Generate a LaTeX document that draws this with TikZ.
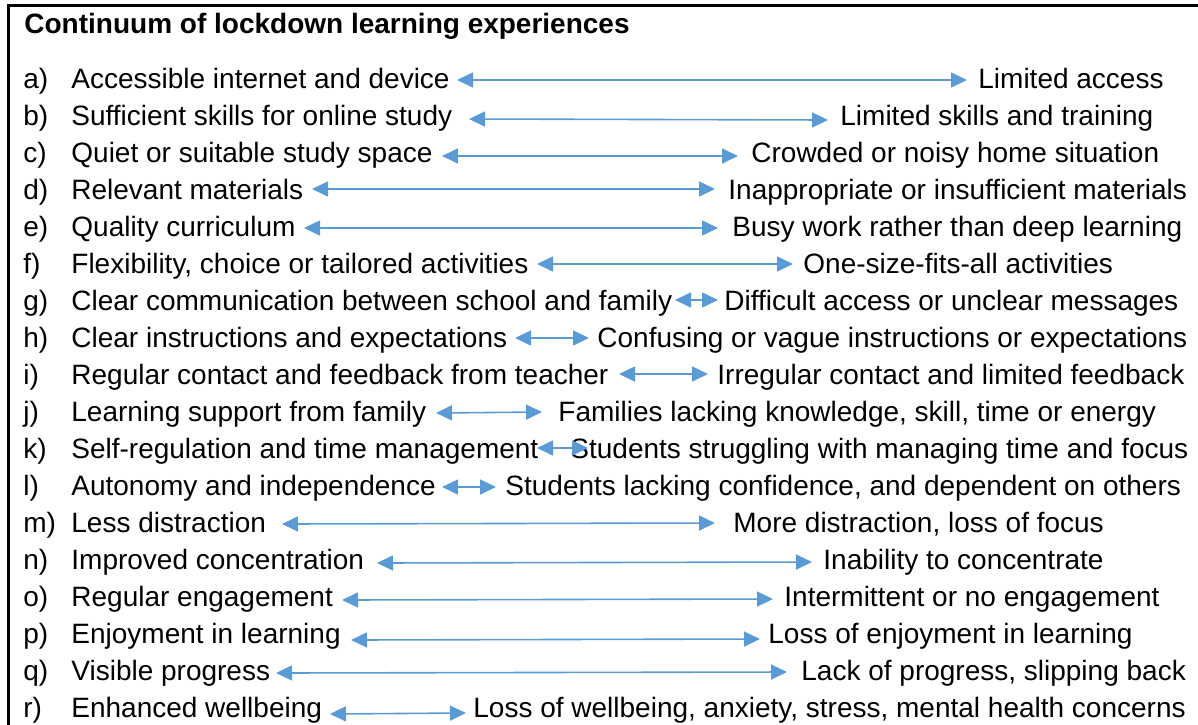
\documentclass[tikz,border=0pt]{standalone}
\usepackage{fontspec}
\setmainfont{Liberation Sans}
\usetikzlibrary{arrows.meta}
\definecolor{arrowblue}{RGB}{91,155,213}
\tikzset{
  tag/.style={anchor=base west, inner sep=0pt},
  item/.style={anchor=base west, inner sep=0pt},
  link/.style={{Triangle[length=8pt,width=7.5pt]}-{Triangle[length=8pt,width=7.5pt]}, draw=arrowblue, line width=0.8pt}
}
\begin{document}
\begin{tikzpicture}[x=0.5pt, y=-0.5pt, font=\fontsize{14pt}{16pt}\selectfont]
    \useasboundingbox (0,0) rectangle (1198,724);
    % Frame
    \draw[line width=1.4pt] (1210,5.5) -- (8.5,5.5) -- (8.5,740);

    % Title
    \node[item, font=\fontsize{14pt}{16pt}\selectfont\bfseries] (title) at (24,33) {Continuum of lockdown learning experiences};

    % a)
    \node[tag] (a0) at (23,88) {a)};
    \node[item] (a1) at (71,88) {Accessible internet and device};
    \node[item] (a2) at (978,88) {Limited access};
    \coordinate (a3) at (457,80); \coordinate (a4) at (967,80);
    \draw[link] (a3) -- (a4);

    % b)
    \node[tag] (b0) at (23,125) {b)};
    \node[item] (b1) at (71,125) {Sufficient skills for online study};
    \node[item] (b2) at (840,125) {Limited skills and training};
    \coordinate (b3) at (469,119); \coordinate (b4) at (828,120);
    \draw[link] (b3) -- (b4);

    % c)
    \node[tag] (c0) at (23,162) {c)};
    \node[item] (c1) at (71,162) {Quiet or suitable study space};
    \node[item] (c2) at (751,162) {Crowded or noisy home situation};
    \coordinate (c3) at (442,156); \coordinate (c4) at (738,156);
    \draw[link] (c3) -- (c4);

    % d)
    \node[tag] (d0) at (23,199) {d)};
    \node[item] (d1) at (71,199) {Relevant materials};
    \node[item] (d2) at (728,199) {Inappropriate or insufficient materials};
    \coordinate (d3) at (312,189); \coordinate (d4) at (715,189);
    \draw[link] (d3) -- (d4);

    % e)
    \node[tag] (e0) at (23,236) {e)};
    \node[item] (e1) at (71,236) {Quality curriculum};
    \node[item] (e2) at (732,236) {Busy work rather than deep learning};
    \coordinate (e3) at (304,228); \coordinate (e4) at (718,228);
    \draw[link] (e3) -- (e4);

    % f)
    \node[tag] (f0) at (23,273) {f)};
    \node[item] (f1) at (71,273) {Flexibility, choice or tailored activities};
    \node[item] (f2) at (803,273) {One-size-fits-all activities};
    \coordinate (f3) at (537,264); \coordinate (f4) at (793,264);
    \draw[link] (f3) -- (f4);

    % g)
    \node[tag] (g0) at (23,310) {g)};
    \node[item] (g1) at (71,310) {Clear communication between school and family};
    \node[item] (g2) at (724,310) {Difficult access or unclear messages};
    \coordinate (g3) at (675,300); \coordinate (g4) at (718,300);
    \draw[link] (g3) -- (g4);

    % h)
    \node[tag] (h0) at (23,347) {h)};
    \node[item] (h1) at (71,347) {Clear instructions and expectations};
    \node[item] (h2) at (597,347) {Confusing or vague instructions or expectations};
    \coordinate (h3) at (515,338); \coordinate (h4) at (589,338);
    \draw[link] (h3) -- (h4);

    % i)
    \node[tag] (i0) at (23,384) {i)};
    \node[item] (i1) at (71,384) {Regular contact and feedback from teacher};
    \node[item] (i2) at (717,384) {Irregular contact and limited feedback};
    \coordinate (i3) at (619,374); \coordinate (i4) at (708,374);
    \draw[link] (i3) -- (i4);

    % j)
    \node[tag] (j0) at (23,421) {j)};
    \node[item] (j1) at (71,421) {Learning support from family};
    \node[item] (j2) at (558,421) {Families lacking knowledge, skill, time or energy};
    \coordinate (j3) at (436,413); \coordinate (j4) at (542,412);
    \draw[link] (j3) -- (j4);

    % k)
    \node[tag] (k0) at (23,458) {k)};
    \node[item] (k1) at (71,458) {Self-regulation and time management};
    \node[item] (k2) at (570,458) {Students struggling with managing time and focus};
    \coordinate (k3) at (537,448); \coordinate (k4) at (588,448);
    \draw[link] (k3) -- (k4);

    % l)
    \node[tag] (l0) at (23,495) {l)};
    \node[item] (l1) at (71,495) {Autonomy and independence};
    \node[item] (l2) at (505,495) {Students lacking confidence, and dependent on others};
    \coordinate (l3) at (442,487); \coordinate (l4) at (496,487);
    \draw[link] (l3) -- (l4);

    % m)
    \node[tag] (m0) at (23,532) {m)};
    \node[item] (m1) at (71,532) {Less distraction};
    \node[item] (m2) at (733,532) {More distraction, loss of focus};
    \coordinate (m3) at (282,524); \coordinate (m4) at (715,523);
    \draw[link] (m3) -- (m4);

    % n)
    \node[tag] (n0) at (23,569) {n)};
    \node[item] (n1) at (71,569) {Improved concentration};
    \node[item] (n2) at (823,569) {Inability to concentrate};
    \coordinate (n3) at (377,563); \coordinate (n4) at (812,562);
    \draw[link] (n3) -- (n4);

    % o)
    \node[tag] (o0) at (23,606) {o)};
    \node[item] (o1) at (71,606) {Regular engagement};
    \node[item] (o2) at (784,606) {Intermittent or no engagement};
    \coordinate (o3) at (342,600); \coordinate (o4) at (773,599);
    \draw[link] (o3) -- (o4);

    % p)
    \node[tag] (p0) at (23,643) {p)};
    \node[item] (p1) at (71,643) {Enjoyment in learning};
    \node[item] (p2) at (768,643) {Loss of enjoyment in learning};
    \coordinate (p3) at (351,640); \coordinate (p4) at (760,639);
    \draw[link] (p3) -- (p4);

    % q)
    \node[tag] (q0) at (23,680) {q)};
    \node[item] (q1) at (71,680) {Visible progress};
    \node[item] (q2) at (801,680) {Lack of progress, slipping back};
    \coordinate (q3) at (276,673); \coordinate (q4) at (787,672);
    \draw[link] (q3) -- (q4);

    % r)
    \node[tag] (r0) at (23,717) {r)};
    \node[item] (r1) at (71,717) {Enhanced wellbeing};
    \node[item] (r2) at (473,717) {Loss of wellbeing, anxiety, stress, mental health concerns};
    \coordinate (r3) at (330,714); \coordinate (r4) at (466,713);
    \draw[link] (r3) -- (r4);

\end{tikzpicture}
\end{document}
